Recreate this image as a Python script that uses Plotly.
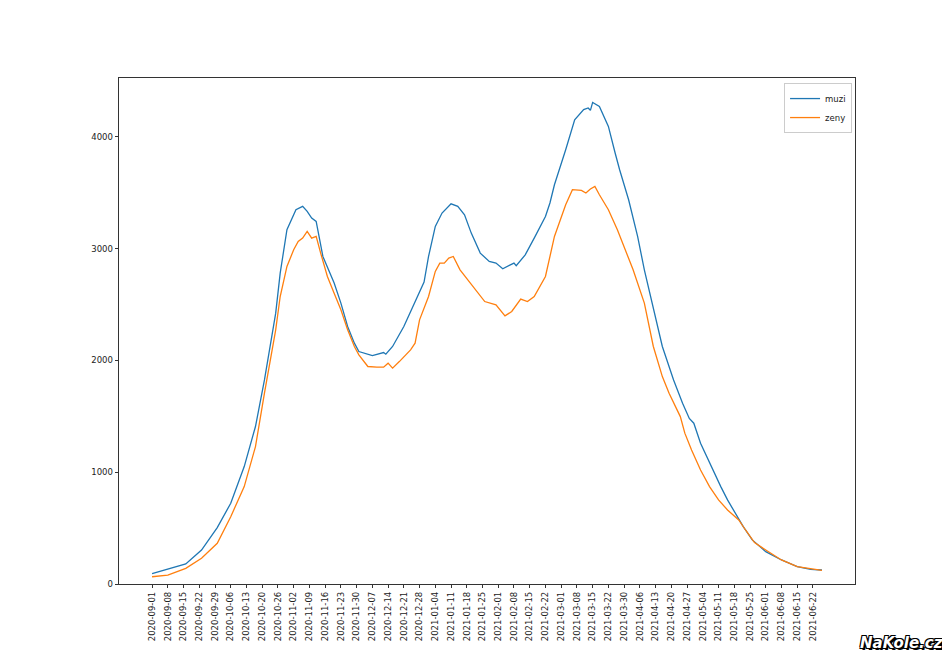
import pandas as pd
import plotly.graph_objects as go

# ---- data ----
muzi_dates = ["2020-09-01", "2020-09-08", "2020-09-16", "2020-09-23", "2020-09-30",
              "2020-10-06", "2020-10-12", "2020-10-17", "2020-10-21", "2020-10-26",
              "2020-10-28", "2020-10-31", "2020-11-04", "2020-11-07", "2020-11-09",
              "2020-11-11", "2020-11-13", "2020-11-16", "2020-11-21", "2020-11-24",
              "2020-11-27", "2020-11-30", "2020-12-02", "2020-12-08", "2020-12-13",
              "2020-12-14", "2020-12-17", "2020-12-22", "2020-12-26", "2020-12-29",
              "2020-12-31", "2021-01-02", "2021-01-05", "2021-01-08", "2021-01-11",
              "2021-01-12", "2021-01-15", "2021-01-18", "2021-01-21", "2021-01-25",
              "2021-01-29", "2021-02-01", "2021-02-04", "2021-02-09", "2021-02-10",
              "2021-02-14", "2021-02-18", "2021-02-23", "2021-02-25", "2021-02-27",
              "2021-03-04", "2021-03-08", "2021-03-12", "2021-03-14", "2021-03-15",
              "2021-03-16", "2021-03-19", "2021-03-23", "2021-03-26", "2021-03-28",
              "2021-04-01", "2021-04-05", "2021-04-08", "2021-04-12", "2021-04-16",
              "2021-04-21", "2021-04-25", "2021-04-28", "2021-04-30", "2021-05-03",
              "2021-05-07", "2021-05-10", "2021-05-12", "2021-05-15", "2021-05-18",
              "2021-05-22", "2021-05-26", "2021-06-01", "2021-06-08", "2021-06-15",
              "2021-06-21", "2021-06-26"]
muzi_vals = [92, 131, 179, 304, 505,
             722, 1050, 1408, 1825, 2422,
             2780, 3168, 3347, 3377, 3332,
             3272, 3243, 2929, 2691, 2512,
             2303, 2154, 2079, 2043, 2070,
             2055, 2124, 2303, 2481, 2610,
             2700, 2929, 3198, 3317, 3377,
             3400, 3377, 3302, 3138, 2959,
             2884, 2870, 2819, 2870, 2846,
             2944, 3093, 3287, 3407, 3570,
             3884, 4152, 4242, 4257, 4236,
             4307, 4271, 4092, 3854, 3705,
             3436, 3108, 2810, 2481, 2124,
             1825, 1617, 1480, 1438, 1259,
             1080, 960, 871, 752, 647,
             513, 394, 289, 215, 155,
             131, 125]

zeny_dates = ["2020-09-01", "2020-09-08", "2020-09-16", "2020-09-23", "2020-09-30",
              "2020-10-06", "2020-10-12", "2020-10-17", "2020-10-21", "2020-10-26",
              "2020-10-28", "2020-10-31", "2020-11-03", "2020-11-05", "2020-11-07",
              "2020-11-09", "2020-11-11", "2020-11-13", "2020-11-15", "2020-11-18",
              "2020-11-21", "2020-11-24", "2020-11-27", "2020-11-30", "2020-12-02",
              "2020-12-06", "2020-12-10", "2020-12-13", "2020-12-15", "2020-12-17",
              "2020-12-20", "2020-12-25", "2020-12-27", "2020-12-29", "2021-01-02",
              "2021-01-05", "2021-01-07", "2021-01-09", "2021-01-11", "2021-01-13",
              "2021-01-16", "2021-01-20", "2021-01-24", "2021-01-27", "2021-02-01",
              "2021-02-05", "2021-02-08", "2021-02-12", "2021-02-15", "2021-02-18",
              "2021-02-23", "2021-02-25", "2021-02-27", "2021-03-04", "2021-03-07",
              "2021-03-11", "2021-03-13", "2021-03-15", "2021-03-17", "2021-03-19",
              "2021-03-23", "2021-03-27", "2021-03-30", "2021-04-03", "2021-04-08",
              "2021-04-12", "2021-04-16", "2021-04-19", "2021-04-24", "2021-04-26",
              "2021-04-29", "2021-05-03", "2021-05-07", "2021-05-11", "2021-05-15",
              "2021-05-20", "2021-05-23", "2021-05-27", "2021-06-01", "2021-06-08",
              "2021-06-15", "2021-06-26"]
zeny_vals = [65, 80, 140, 230, 364,
             602, 871, 1229, 1706, 2273,
             2571, 2840, 2989, 3063, 3093,
             3153, 3093, 3108, 2959, 2750,
             2601, 2452, 2273, 2124, 2049,
             1945, 1939, 1939, 1975, 1930,
             1989, 2094, 2154, 2362, 2571,
             2795, 2870, 2870, 2915, 2929,
             2810, 2705, 2601, 2526, 2497,
             2398, 2437, 2548, 2526, 2571,
             2750, 2929, 3108, 3392, 3526,
             3520, 3496, 3532, 3556, 3481,
             3347, 3168, 3019, 2810, 2512,
             2124, 1855, 1706, 1497, 1349,
             1199, 1020, 871, 752, 662,
             573, 483, 370, 304, 215,
             155, 122]

tick_labels = ["2020-09-01", "2020-09-08", "2020-09-15", "2020-09-22", "2020-09-29",
               "2020-10-06", "2020-10-13", "2020-10-20", "2020-10-26", "2020-11-02",
               "2020-11-09", "2020-11-16", "2020-11-23", "2020-11-30", "2020-12-07",
               "2020-12-14", "2020-12-21", "2020-12-28", "2021-01-04", "2021-01-11",
               "2021-01-18", "2021-01-25", "2021-02-01", "2021-02-08", "2021-02-15",
               "2021-02-22", "2021-03-01", "2021-03-08", "2021-03-15", "2021-03-22",
               "2021-03-30", "2021-04-06", "2021-04-13", "2021-04-20", "2021-04-27",
               "2021-05-04", "2021-05-11", "2021-05-18", "2021-05-25", "2021-06-01",
               "2021-06-08", "2021-06-15", "2021-06-22"]
tick_positions = pd.date_range("2020-09-01", periods=len(tick_labels), freq="7D")

y_ticks = [0, 1000, 2000, 3000, 4000]

FONT = "DejaVu Sans, sans-serif"

fig = go.Figure()
fig.add_trace(go.Scatter(x=pd.to_datetime(muzi_dates), y=muzi_vals, mode="lines",
                         name="muzi", line=dict(color="#1f77b4", width=1.3)))
fig.add_trace(go.Scatter(x=pd.to_datetime(zeny_dates), y=zeny_vals, mode="lines",
                         name="zeny", line=dict(color="#ff7f0e", width=1.3)))

fig.update_layout(
    width=950, height=656,
    margin=dict(l=111, r=103, t=70, b=80),
    paper_bgcolor="white", plot_bgcolor="white",
    font=dict(family=FONT, size=8.5, color="#222"),
    showlegend=True,
    legend=dict(x=0.996, y=0.99, xanchor="right", yanchor="top",
                bgcolor="rgba(255,255,255,0.8)", bordercolor="#cccccc", borderwidth=1,
                font=dict(family=FONT, size=8.5, color="#222"),
                itemwidth=30, tracegroupgap=0),
    xaxis=dict(type="date",
               range=["2020-08-17 07:00", "2021-07-10 17:00"],
               tickmode="array", tickvals=tick_positions, ticktext=tick_labels,
               tickangle=-90, ticks="outside", ticklen=3.5, tickwidth=0.8,
               tickcolor="#333", showgrid=False, zeroline=False,
               showline=True, linecolor="#333", linewidth=0.8, mirror=True,
               tickfont=dict(family=FONT, size=8.5, color="#222")),
    yaxis=dict(range=[0, 4525], tickmode="array", tickvals=y_ticks,
               ticktext=[str(v) for v in y_ticks],
               ticks="outside", ticklen=3.5, tickwidth=0.8, tickcolor="#333",
               showgrid=False, zeroline=False,
               showline=True, linecolor="#333", linewidth=0.8, mirror=True,
               tickfont=dict(family=FONT, size=8.5, color="#222")),
)

fig.add_annotation(text="<b><i>NaKole.cz</i></b>", xref="paper", yref="paper",
                   x=(945 - 119) / 736, y=-(643 - 584) / 506,
                   xanchor="right", yanchor="middle", showarrow=False,
                   font=dict(family="DejaVu Sans, sans-serif", size=15, color="white",
                             shadow="1px 1px 0 #000, -1px -1px 0 #000, 1px -1px 0 #000, -1px 1px 0 #000, 2px 2px 0 #000"))

fig.write_html("out.html")
